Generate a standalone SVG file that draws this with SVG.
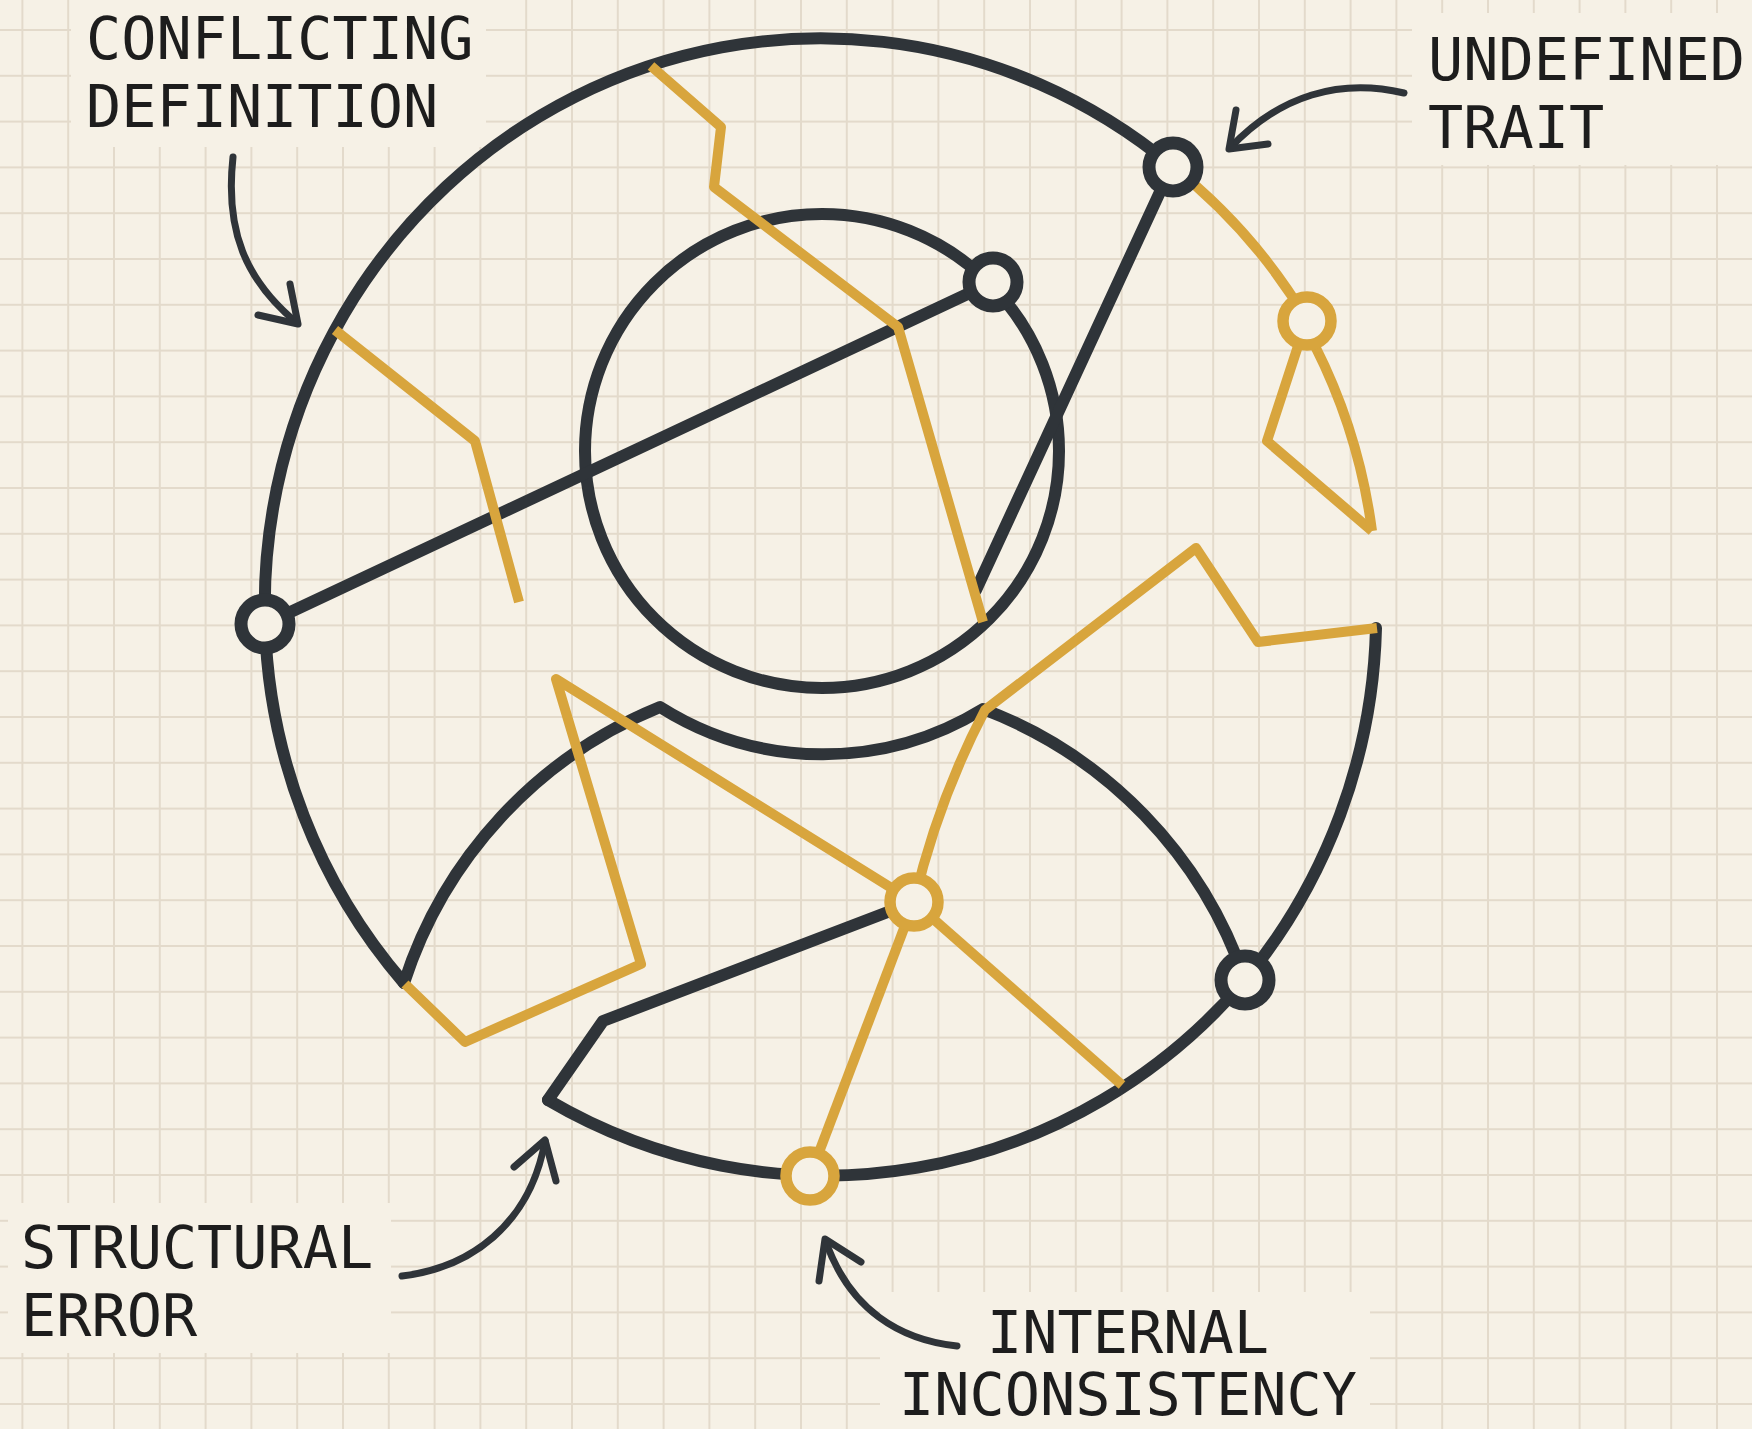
<svg xmlns="http://www.w3.org/2000/svg" width="1752" height="1429" viewBox="0 0 1752 1429">
<defs>
<pattern id="grid" x="21.4" y="29" width="45.8" height="45.8" patternUnits="userSpaceOnUse">
<path d="M0,1 H45.8 M1,0 V45.8" stroke="#e3dacb" stroke-width="2" fill="none"/>
</pattern>
<style>
.dk{fill:none;stroke:#2f3439;stroke-width:12;stroke-linejoin:round;stroke-linecap:round}
.yl{fill:none;stroke:#d8a53d;stroke-width:10;stroke-linejoin:round;stroke-linecap:butt}
.arr{fill:none;stroke:#2f3439;stroke-width:7;stroke-linecap:round;stroke-linejoin:round}
.ndk{fill:#f6f1e6;stroke:#2f3439;stroke-width:13}
.nyl{fill:#f6f1e6;stroke:#d8a53d;stroke-width:11.5}
.lbl{font-family:"DejaVu Sans Mono","Liberation Mono",monospace;font-size:58.5px;fill:#1d1d1d}
.box{fill:#f6f1e6}
</style>
</defs>
<rect x="0" y="0" width="1752" height="1429" fill="#f6f1e6"/>
<rect x="0" y="0" width="1752" height="1429" fill="url(#grid)"/>
<g id="label-boxes">
<rect class="box" x="71" y="0" width="415" height="147"/>
<rect class="box" x="1412" y="13" width="340" height="152"/>
<rect class="box" x="8" y="1203" width="383" height="150"/>
<rect class="box" x="880" y="1292" width="490" height="137"/>
</g>
<g id="connectors">
<g id="dark-lines">
<path class="dk" d="M404,983 A556,568 0 0 1 265,624 A556,568 0 0 1 1172,166"/>
<path class="dk" d="M1376,628 A556,568 0 0 1 1245,980 A556,568 0 0 1 548,1100"/>
<circle class="dk" cx="822" cy="451" r="237"/>
<path class="dk" d="M404,983 A445,445 0 0 1 660,707 A305,305 0 0 0 983,709 A442,442 0 0 1 1245,980"/>
<path class="dk" d="M265,624 L993,282"/>
<path class="dk" d="M1172,166 L976,590"/>
<path class="dk" d="M548,1100 L603,1021 L914,902"/>
</g>
<g id="yellow-lines">
<path class="yl" d="M651,66 L721,127 L714,187 L898,327 L983,622"/>
<path class="yl" d="M335,330 L475,441 L519,602"/>
<path class="yl" d="M1172,166 A556,568 0 0 1 1307,320"/>
<path class="yl" d="M1298,346 L1267,441 L1372,531"/>
<path class="yl" d="M1315,346 A556,568 0 0 1 1372,531"/>
<path class="yl" d="M914,902 Q938,800 985,710 L1196,548 L1258,642 L1377,628"/>
<path class="yl" d="M405,984 L465,1042 L641,964 L556,679 L914,902"/>
<path class="yl" d="M914,902 L1122,1085"/>
<path class="yl" d="M914,902 L810,1176"/>
</g>
</g>
<g id="node-left"><circle class="ndk" cx="265" cy="624" r="24"/></g>
<g id="node-inner"><circle class="ndk" cx="993" cy="282" r="24"/></g>
<g id="node-upper-right"><circle class="ndk" cx="1173" cy="167" r="24"/></g>
<g id="node-lower-right"><circle class="ndk" cx="1245" cy="980" r="24"/></g>
<g id="node-yellow-right"><circle class="nyl" cx="1307" cy="321" r="24"/></g>
<g id="node-yellow-center"><circle class="nyl" cx="914" cy="902" r="24"/></g>
<g id="node-yellow-bottom"><circle class="nyl" cx="810" cy="1176" r="24"/></g>
<g id="label-conflicting">
<text class="lbl" x="86" y="59">CONFLICTING</text>
<text class="lbl" x="86" y="127">DEFINITION</text>
<path class="arr" d="M233,157 C225,230 245,280 297,323"/>
<path class="arr" d="M290,284 L298,324 L258,315"/>
</g>
<g id="label-undefined">
<text class="lbl" x="1428" y="80">UNDEFINED</text>
<text class="lbl" x="1428" y="148">TRAIT</text>
<path class="arr" d="M1404,93 C1340,78 1280,95 1230,148"/>
<path class="arr" d="M1236,110 L1229,149 L1268,144"/>
</g>
<g id="label-structural">
<text class="lbl" x="21" y="1268">STRUCTURAL</text>
<text class="lbl" x="21" y="1336">ERROR</text>
<path class="arr" d="M402,1276 C470,1268 530,1225 545,1141"/>
<path class="arr" d="M514,1167 L545,1140 L556,1181"/>
</g>
<g id="label-internal">
<text class="lbl" x="1128" y="1353" text-anchor="middle">INTERNAL</text>
<text class="lbl" x="1128" y="1415" text-anchor="middle">INCONSISTENCY</text>
<path class="arr" d="M957,1346 C900,1340 850,1310 826,1242"/>
<path class="arr" d="M819,1281 L825,1239 L861,1262"/>
</g>
</svg>
